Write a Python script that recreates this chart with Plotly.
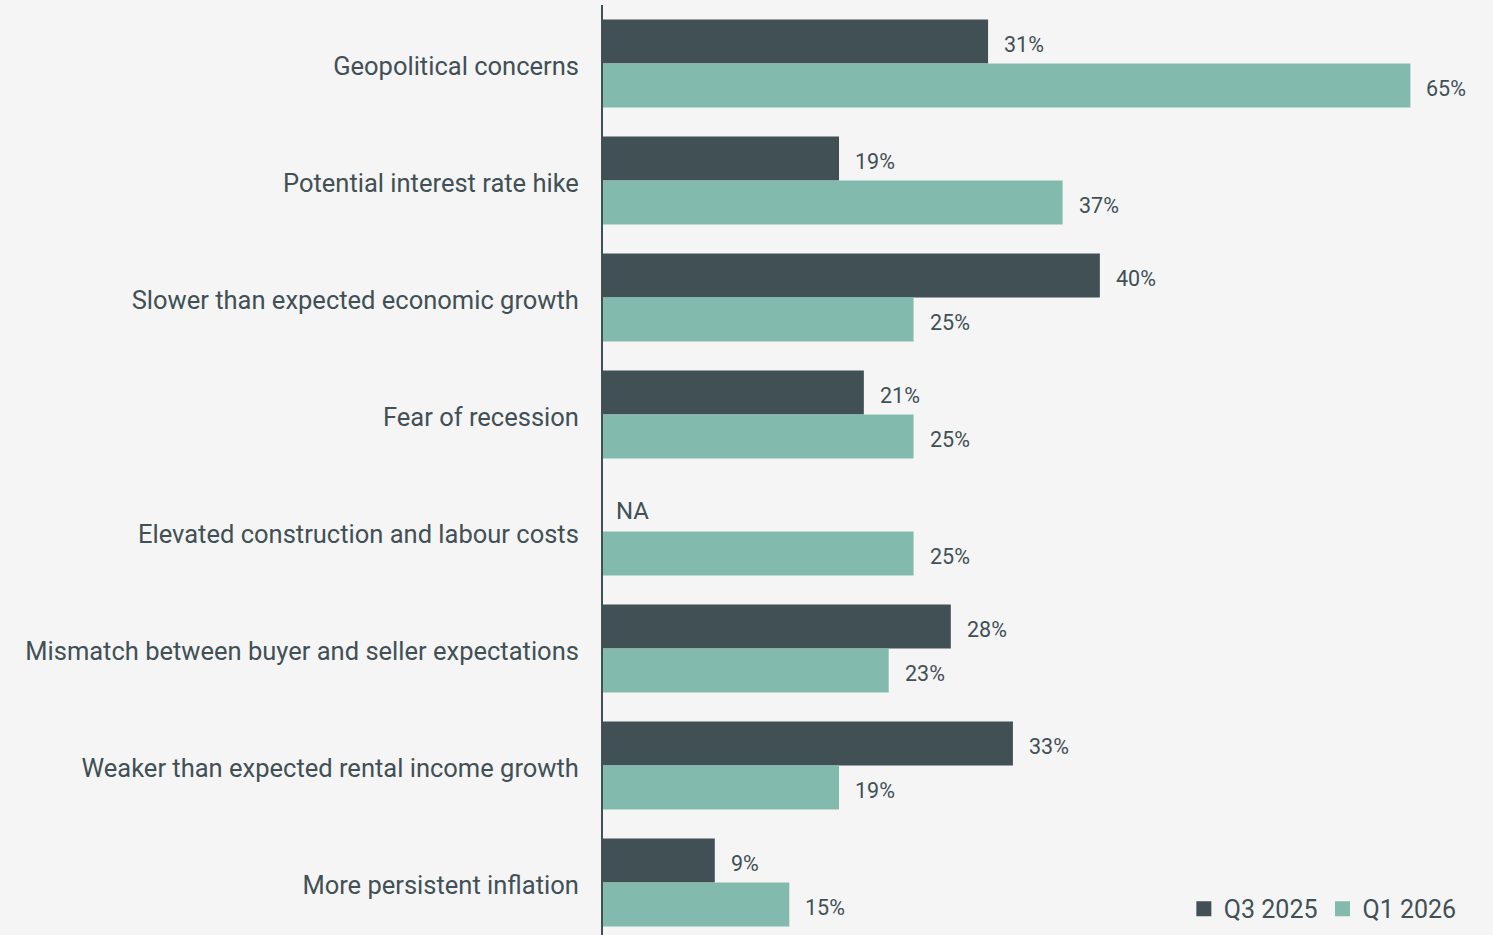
import plotly.graph_objects as go

categories = [
    "Geopolitical concerns",
    "Potential interest rate hike",
    "Slower than expected economic growth",
    "Fear of recession",
    "Elevated construction and labour costs",
    "Mismatch between buyer and seller expectations",
    "Weaker than expected rental income growth",
    "More persistent inflation",
]
q3_2025 = [31, 19, 40, 21, None, 28, 33, 9]
q1_2026 = [65, 37, 25, 25, 25, 23, 19, 15]
series_names = ["Q3 2025", "Q1 2026"]

DARK = "#415055"
TEAL = "#82bbad"
BG = "#f5f5f5"
TXT = "#415055"
FONT = "Roboto"

idx = list(range(len(categories)))

fig = go.Figure()
fig.add_trace(go.Bar(
    y=idx, x=[v if v is not None else 0 for v in q3_2025], orientation="h",
    name=series_names[0], marker=dict(color=DARK, line=dict(width=0)), showlegend=False,
))
fig.add_trace(go.Bar(
    y=idx, x=q1_2026, orientation="h",
    name=series_names[1], marker=dict(color=TEAL, line=dict(width=0)), showlegend=False,
))
# legend entries with square markers
for nm, col in zip(series_names, [DARK, TEAL]):
    fig.add_trace(go.Scatter(x=[None], y=[None], mode="markers", name=nm,
                             marker=dict(symbol="square", size=15, color=col)))

bw = (1 - 0.248) / 2
annotations = []
for i, (a, b) in enumerate(zip(q3_2025, q1_2026)):
    if a is None:
        annotations.append(dict(x=0, y=i - bw / 2, xref="x", yref="y", text="NA",
                                showarrow=False, xanchor="left", yanchor="middle",
                                xshift=11, yshift=-2, font=dict(size=24, color=TXT, family=FONT)))
    else:
        annotations.append(dict(x=a, y=i - bw / 2, xref="x", yref="y", text=f"{a}%",
                                showarrow=False, xanchor="left", yanchor="middle",
                                xshift=14, yshift=-3, font=dict(size=21.5, color=TXT, family=FONT)))
    annotations.append(dict(x=b, y=i + bw / 2, xref="x", yref="y", text=f"{b}%",
                            showarrow=False, xanchor="left", yanchor="middle",
                            xshift=14, yshift=-3, font=dict(size=21.5, color=TXT, family=FONT)))

fig.update_layout(
    width=1493, height=935,
    paper_bgcolor=BG, plot_bgcolor=BG,
    margin=dict(l=603, r=0, t=5, b=0),
    barmode="group", bargap=0.248, bargroupgap=0,
    font=dict(family=FONT, color=TXT),
    annotations=annotations,
    showlegend=True,
    legend=dict(orientation="h", x=0.965, xanchor="right", y=0.028, yanchor="middle",
                font=dict(size=25, color=TXT, family=FONT), bgcolor="rgba(0,0,0,0)",
                traceorder="normal", itemwidth=30, tracegroupgap=0),
    xaxis=dict(range=[0, 71.65], showgrid=False, zeroline=False, showticklabels=False,
               showline=False, fixedrange=True),
    yaxis=dict(range=[7.449, -0.5], tickvals=idx, ticktext=categories,
               showgrid=False, zeroline=False, showline=True, linecolor=DARK, linewidth=2,
               ticks="outside", ticklen=17, tickcolor="rgba(0,0,0,0)", ticklabelshift=-3,
               tickfont=dict(size=25.5, color=TXT, family=FONT)),
)

fig.write_html("out.html")
